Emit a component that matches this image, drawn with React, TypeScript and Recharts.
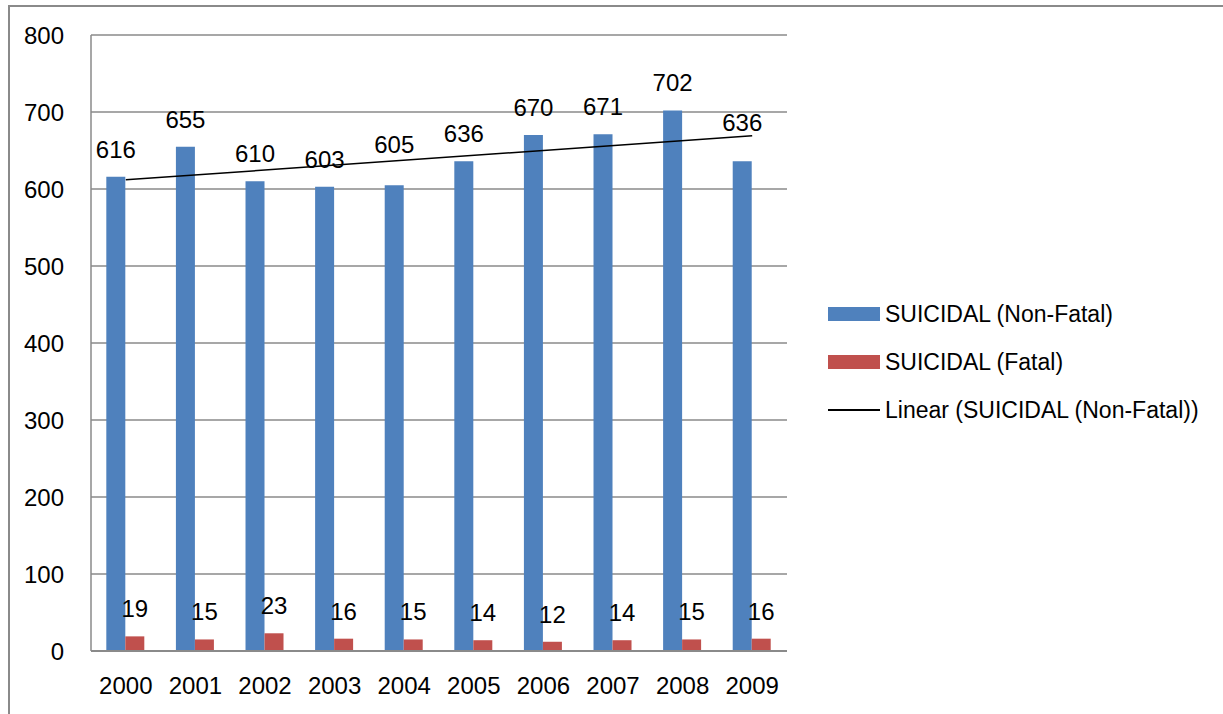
import {
  ComposedChart,
  Bar,
  XAxis,
  YAxis,
  CartesianGrid,
  LabelList,
  ReferenceLine,
} from 'recharts';

const years = ['2000', '2001', '2002', '2003', '2004', '2005', '2006', '2007', '2008', '2009'];
const nonFatal = [616, 655, 610, 603, 605, 636, 670, 671, 702, 636];
const fatal = [19, 15, 23, 16, 15, 14, 12, 14, 15, 16];
const yTicks = [0, 100, 200, 300, 400, 500, 600, 700, 800];

// linear trend of the non-fatal series, first and last year
const trendStart = 612;
const trendEnd = 669;

const BLUE = '#4F81BD';
const RED = '#C0504D';
const GRID = '#8a8a8a';
const FONT = '"Liberation Sans", Arial, sans-serif';
const NUM_SIZE = 24;
const LABEL_GAP = 19;
// a couple of value labels were dragged up off the trend line
const nonFatalLabelLift: Record<number, number> = { 4: 13, 9: 11 };

const chartData = years.map((year, i) => ({
  year,
  nonFatal: nonFatal[i],
  fatal: fatal[i],
}));

const legendItems = [
  { label: 'SUICIDAL (Non-Fatal)', color: BLUE, kind: 'box' },
  { label: 'SUICIDAL (Fatal)', color: RED, kind: 'box' },
  { label: 'Linear (SUICIDAL (Non-Fatal))', color: '#000', kind: 'line' },
];

function makeLabel(lift: Record<number, number>) {
  return (props: any) => {
    const { x, y, width, value, index } = props;
    const extra = lift[index] ?? 0;
    return (
      <text
        x={Number(x) + Number(width) / 2}
        y={Number(y) - LABEL_GAP - extra}
        textAnchor="middle"
        fontSize={NUM_SIZE}
        fontFamily={FONT}
        fill="#000"
      >
        {value}
      </text>
    );
  };
}

function LegendBox() {
  return (
    <div style={{ position: 'absolute', left: 828, top: 290, fontFamily: FONT, fontSize: 23, color: '#000' }}>
      {legendItems.map((item) => (
        <div key={item.label} style={{ display: 'flex', alignItems: 'center', height: 48 }}>
          <div style={{ width: 52, height: 14, display: 'flex', alignItems: 'center' }}>
            {item.kind === 'box' ? (
              <div style={{ width: 52, height: 14, background: item.color }} />
            ) : (
              <div style={{ width: 52, height: 2, background: item.color }} />
            )}
          </div>
          <span style={{ marginLeft: 5, whiteSpace: 'nowrap' }}>{item.label}</span>
        </div>
      ))}
    </div>
  );
}

export default function App() {
  return (
    <div style={{ position: 'absolute', left: 0, top: 0, width: 1223, height: 714, overflow: 'hidden', background: '#fff' }}>
      <div
        style={{
          position: 'absolute',
          left: 8,
          top: 5,
          width: 1300,
          height: 800,
          borderTop: `2px solid ${GRID}`,
          borderLeft: `2px solid ${GRID}`,
        }}
      />
      <ComposedChart
        width={1223}
        height={714}
        data={chartData}
        margin={{ top: 35, right: 436, bottom: 33, left: 31 }}
        barCategoryGap="22%"
        barGap={0}
        style={{ position: 'absolute', left: 0, top: 0, fontFamily: FONT }}
      >
        <CartesianGrid vertical={false} stroke={GRID} strokeWidth={1.5} />
        <XAxis
          dataKey="year"
          height={30}
          tickLine={false}
          tickSize={0}
          tickMargin={26}
          axisLine={{ stroke: GRID, strokeWidth: 2 }}
          tick={{ fill: '#000', fontSize: NUM_SIZE }}
          interval={0}
        />
        <YAxis
          width={60}
          domain={[0, 800]}
          ticks={yTicks}
          tickLine={false}
          tickSize={0}
          tickMargin={27}
          axisLine={{ stroke: GRID, strokeWidth: 1.5 }}
          tick={{ fill: '#000', fontSize: NUM_SIZE }}
        />
        <Bar dataKey="nonFatal" name="SUICIDAL (Non-Fatal)" fill={BLUE} isAnimationActive={false}>
          <LabelList dataKey="nonFatal" content={makeLabel(nonFatalLabelLift)} />
        </Bar>
        <Bar dataKey="fatal" name="SUICIDAL (Fatal)" fill={RED} isAnimationActive={false}>
          <LabelList dataKey="fatal" content={makeLabel({})} />
        </Bar>
        <ReferenceLine
          segment={[
            { x: years[0], y: trendStart },
            { x: years[years.length - 1], y: trendEnd },
          ]}
          stroke="#000"
          strokeWidth={1.5}
        />
      </ComposedChart>
      <LegendBox />
    </div>
  );
}
